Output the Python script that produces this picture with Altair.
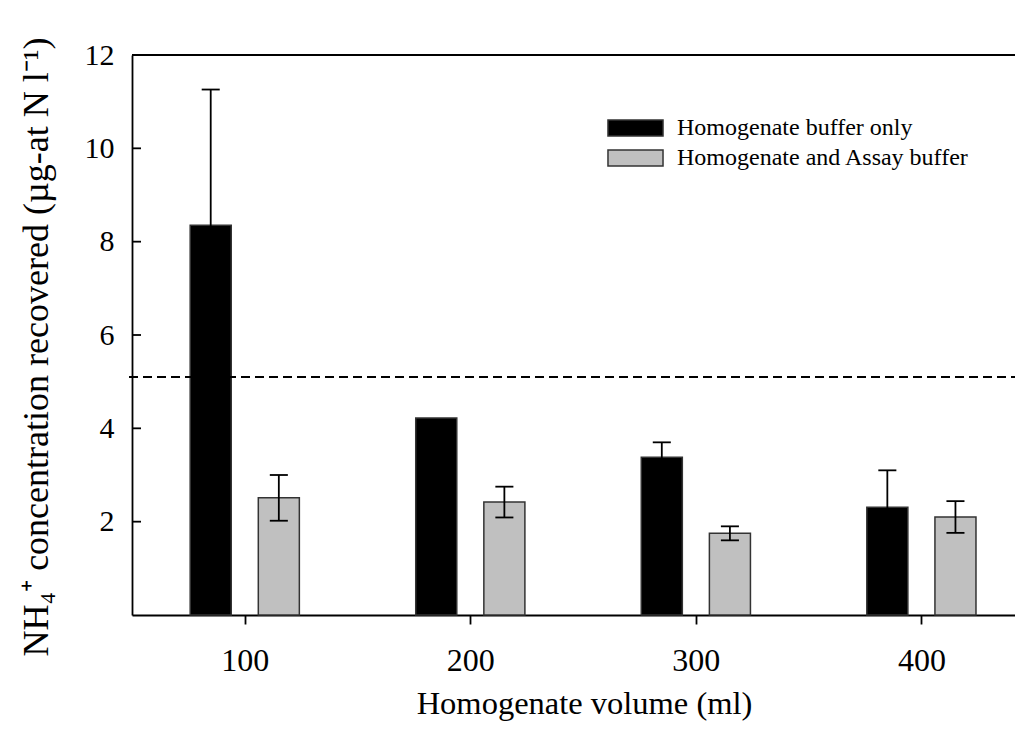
import altair as alt
import pandas as pd

# ---- data ----
volumes = [100, 200, 300, 400]
series = ["Homogenate buffer only", "Homogenate and Assay buffer"]
buffer_only_mean = [8.35, 4.22, 3.38, 2.31]
buffer_only_err = [2.91, 0.0, 0.32, 0.79]
assay_mean = [2.51, 2.42, 1.75, 2.10]
assay_err = [0.49, 0.33, 0.15, 0.34]
reference_level = [5.1]
y_tick_values = [2, 4, 6, 8, 10, 12]
x_tick_values = [100, 200, 300, 400]
colors = ["#000000", "#c0c0c0"]

rows = []
for i, v in enumerate(volumes):
    rows.append({"volume": v, "series": series[0], "mean": buffer_only_mean[i],
                 "err": buffer_only_err[i], "pos": -1})
    rows.append({"volume": v, "series": series[1], "mean": assay_mean[i],
                 "err": assay_err[i], "pos": 1})
df = pd.DataFrame(rows)

FONT = "Liberation Serif"
xs = alt.Scale(domain=[50, 441.5], nice=False, zero=False)
ys = alt.Scale(domain=[0, 12], nice=False)

base = alt.Chart(df).transform_calculate(
    x0="datum.volume + datum.pos * 6",
    x1="datum.volume + datum.pos * 24.2",
    xc="datum.volume + datum.pos * 15.1",
    cl="datum.volume + datum.pos * 15.1 - 4",
    cr="datum.volume + datum.pos * 15.1 + 4",
    lo="datum.mean - datum.err",
    hi="datum.mean + datum.err",
)

bars = base.mark_bar(stroke="#333333", strokeWidth=1.5).encode(
    x=alt.X("x0:Q", scale=xs, axis=alt.Axis(
        values=x_tick_values, format="d", grid=False,
        labelFont=FONT, labelFontSize=32, labelColor="black", labelPadding=21,
        tickSize=9, tickWidth=1.8, tickColor="black",
        domainColor="black", domainWidth=1.8,
        title="Homogenate volume (ml)", titleFont=FONT, titleFontSize=32.5,
        titleFontWeight="normal", titleColor="black",
        titleX=452, titleY=98, titleBaseline="alphabetic", titleAnchor="middle", titleAlign="center")),
    x2="x1:Q",
    y=alt.Y("mean:Q", scale=ys, axis=alt.Axis(
        values=y_tick_values, grid=False, tickSize=0, labelPadding=18,
        labelFont=FONT, labelFontSize=30, labelColor="black",
        domainColor="black", domainWidth=1.8,
        title="NH\u2084\u207a concentration recovered (\u00b5g-at N l\u207b\u00b9)",
        titleFont=FONT, titleFontSize=36, titleFontWeight="normal", titleColor="black",
        titleAngle=270, titleX=-85, titleY=291.5, titleAlign="center", titleBaseline="alphabetic")),
    y2=alt.datum(0),
    color=alt.Color("series:N", sort=series, scale=alt.Scale(domain=series, range=colors),
                    legend=alt.Legend(
                        title=None, orient="none", legendX=491.5, legendY=61,
                        symbolType="M-3.44,-1L3.44,-1L3.44,1L-3.44,1Z", symbolSize=256,
                        symbolStrokeColor="#333333", symbolStrokeWidth=1.5, symbolOpacity=1,
                        labelFont=FONT, labelFontSize=24, labelColor="black", labelLimit=400,
                        labelOffset=29.5, rowPadding=6)),
)

err_base = base.transform_filter("datum.err > 0")
err_lines = err_base.mark_rule(color="black", strokeWidth=1.8).encode(
    x=alt.X("xc:Q", scale=xs), y=alt.Y("lo:Q", scale=ys), y2="hi:Q")
cap_hi = err_base.mark_rule(color="black", strokeWidth=1.8).encode(
    x=alt.X("cl:Q", scale=xs), x2="cr:Q", y=alt.Y("hi:Q", scale=ys))
cap_lo = err_base.mark_rule(color="black", strokeWidth=1.8).encode(
    x=alt.X("cl:Q", scale=xs), x2="cr:Q", y=alt.Y("lo:Q", scale=ys))

inner_ticks = alt.Chart(pd.DataFrame({"t": y_tick_values[:-1]})).mark_rule(
    color="black", strokeWidth=1.8).encode(
    y=alt.Y("t:Q", scale=ys), x=alt.value(0), x2=alt.value(9))

top_line = alt.Chart(pd.DataFrame({"t": [max(y_tick_values)]})).mark_rule(
    color="black", strokeWidth=1.8).encode(y=alt.Y("t:Q", scale=ys))

dashed = alt.Chart(pd.DataFrame({"level": reference_level})).mark_rule(
    color="black", strokeWidth=2, strokeDash=[9, 5]).encode(
    y=alt.Y("level:Q", scale=ys), x=alt.value(-3), x2=alt.value(883))

chart = alt.layer(bars, err_lines, cap_hi, cap_lo, inner_ticks, top_line, dashed).properties(
    width=883, height=560,
    autosize=alt.AutoSizeParams(type="none"),
    padding={"left": 124, "top": 47, "right": 0, "bottom": 107},
).configure_view(stroke=None).configure(background="white")

chart.save("out.html", embed_options={"renderer": "svg", "actions": False})
